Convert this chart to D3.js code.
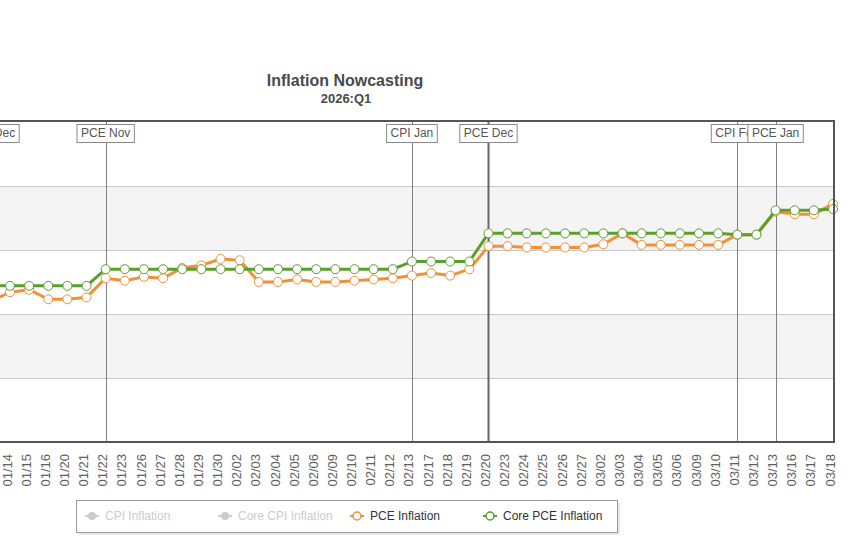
<!DOCTYPE html>
<html><head><meta charset="utf-8">
<script src="https://cdn.jsdelivr.net/npm/d3@7"></script>
<style>body{margin:0;background:#fff;}svg{display:block;font-family:"Liberation Sans",Arial,sans-serif;}</style>
</head><body>
<svg id="c" width="856" height="555"></svg>
<script>
const categories = ["01/13","01/14","01/15","01/16","01/20","01/21","01/22","01/23","01/26","01/27","01/28","01/29","01/30","02/02","02/03","02/04","02/05","02/06","02/09","02/10","02/11","02/12","02/13","02/17","02/18","02/19","02/20","02/23","02/24","02/25","02/26","02/27","03/02","03/03","03/04","03/05","03/06","03/09","03/10","03/11","03/12","03/13","03/16","03/17","03/18"];
const pceInflation = [2.60,2.67,2.69,2.615,2.615,2.63,2.78,2.76,2.79,2.78,2.86,2.88,2.93,2.92,2.75,2.75,2.77,2.75,2.75,2.76,2.77,2.78,2.80,2.82,2.80,2.85,3.03,3.03,3.02,3.02,3.02,3.02,3.045,3.13,3.04,3.04,3.04,3.04,3.04,3.12,3.12,3.30,3.28,3.28,3.36];
const corePceInflation = [2.72,2.72,2.72,2.72,2.72,2.72,2.85,2.85,2.85,2.85,2.85,2.85,2.85,2.85,2.85,2.85,2.85,2.85,2.85,2.85,2.85,2.85,2.91,2.91,2.91,2.91,3.13,3.13,3.13,3.13,3.13,3.13,3.13,3.13,3.13,3.13,3.13,3.13,3.13,3.12,3.12,3.31,3.31,3.31,3.32];
const yTicks = [1.5,2.0,2.5,3.0,3.5,4.0];
const releaseDates = ["01/13","01/22","02/13","02/20","03/11","03/13"];
const releaseLabels = ["CPI Dec","PCE Nov","CPI Jan","PCE Dec","CPI Feb","PCE Jan"];
const legendNames = ["CPI Inflation","Core CPI Inflation","PCE Inflation","Core PCE Inflation"];
const titleText = "Inflation Nowcasting";
const subtitleText = "2026:Q1";

const svg = d3.select("#c");
const plotTop = 122, plotBottom = 442, plotRight = 834, plotLeft = -200;
const step = 19.14;
const x = d3.scalePoint().domain(categories).range([833 - step*(categories.length-1), 833]);
const y = d3.scaleLinear().domain([1.5,4.0]).range([plotBottom, plotTop]);

const orange = "#f0913a", green = "#5a9e2c";

// bands
const bands = [[2.0,2.5],[3.0,3.5]];
svg.append("g").selectAll("rect").data(bands).join("rect")
  .attr("x", plotLeft).attr("width", plotRight - plotLeft)
  .attr("y", d => y(d[1])).attr("height", d => y(d[0]) - y(d[1]))
  .attr("fill", "#f4f4f4");
// gridlines
svg.append("g").selectAll("line").data(yTicks.slice(1,-1)).join("line")
  .attr("x1", plotLeft).attr("x2", plotRight)
  .attr("y1", d => Math.round(y(d))+0.5).attr("y2", d => Math.round(y(d))+0.5)
  .attr("stroke", "#c8c8c8").attr("stroke-width", 1);

// plot lines
const plg = svg.append("g");
releaseDates.forEach((d,i) => {
  const px = Math.round(x(d)) + 0.5;
  plg.append("line").attr("x1", px).attr("x2", px).attr("y1", plotTop).attr("y2", plotBottom)
    .attr("stroke", d === "02/20" ? "#666" : "#808080").attr("stroke-width", d === "02/20" ? 2 : 1);
});

// series
const line = d3.line().x((d,i) => x(categories[i])).y(d => y(d));
function drawSeries(vals, col) {
  const g = svg.append("g");
  g.append("path").datum(vals).attr("d", line).attr("fill","none").attr("stroke", col)
    .attr("stroke-width", 3).attr("stroke-linejoin","round");
  g.selectAll("circle").data(vals).join("circle")
    .attr("cx", (d,i) => x(categories[i])).attr("cy", d => y(d)).attr("r", 4.5)
    .attr("fill", "#fff").attr("stroke", col).attr("stroke-width", 1);
}
drawSeries(pceInflation, orange);
drawSeries(corePceInflation, green);

// plot border
svg.append("rect").attr("x", plotLeft).attr("y", plotTop - 1).attr("width", plotRight - plotLeft)
  .attr("height", plotBottom - plotTop + 1).attr("fill","none").attr("stroke","#555").attr("stroke-width",2);

// plot line labels
const lg = svg.append("g");
releaseDates.forEach((d,i) => {
  const px = x(d) + (i === 0 ? 2 : 0);
  const g = lg.append("g");
  const t = g.append("text").attr("x", px).attr("y", 137).attr("text-anchor","middle")
    .attr("font-size", 12).attr("fill", "#555").text(releaseLabels[i]);
  const w = t.node().getComputedTextLength();
  g.insert("rect","text").attr("x", px - w/2 - 4).attr("y", 124.5).attr("width", w + 8).attr("height", 18)
    .attr("fill","#fff").attr("stroke","#888").attr("stroke-width",1);
});

// x axis labels
svg.append("g").selectAll("text").data(categories).join("text")
  .attr("transform", d => `translate(${x(d) - 3},454) rotate(-90)`)
  .attr("dy","0.35em").attr("text-anchor","end").attr("font-size", 13).attr("fill","#606060")
  .text(d => d);

// title
svg.append("text").attr("x", 345).attr("y", 86).attr("text-anchor","middle").attr("font-size",16)
  .attr("font-weight","bold").attr("fill","#4a4a4a").text(titleText);
svg.append("text").attr("x", 346).attr("y", 103).attr("text-anchor","middle").attr("font-size",13)
  .attr("font-weight","bold").attr("fill","#4a4a4a").text(subtitleText);

// legend
const leg = svg.append("g");
leg.append("rect").attr("x", 79).attr("y", 503).attr("width", 541).attr("height", 32).attr("fill","#e8e8e8");
leg.append("rect").attr("x", 76.5).attr("y", 500.5).attr("width", 541).attr("height", 32)
  .attr("fill","#fff").attr("stroke","#999").attr("stroke-width",1);
const legItems = [
  {sx: 85, tx: 105, col: "#cccccc", hidden: true},
  {sx: 218, tx: 238, col: "#cccccc", hidden: true},
  {sx: 350, tx: 370, col: orange, hidden: false},
  {sx: 483, tx: 503, col: green, hidden: false}
];
legItems.forEach((it,i) => {
  leg.append("line").attr("x1", it.sx).attr("x2", it.sx + 14).attr("y1", 516).attr("y2", 516)
    .attr("stroke", it.col).attr("stroke-width", 2);
  if (it.hidden) {
    leg.append("circle").attr("cx", it.sx + 7).attr("cy", 516).attr("r", 4).attr("fill", it.col);
  } else {
    leg.append("circle").attr("cx", it.sx + 7).attr("cy", 516).attr("r", 4).attr("fill","#fff")
      .attr("stroke", it.col).attr("stroke-width", 1.5);
  }
  leg.append("text").attr("x", it.tx).attr("y", 520).attr("font-size", 12)
    .attr("fill", it.hidden ? "#cccccc" : "#333").text(legendNames[i]);
});
</script>
</body></html>
